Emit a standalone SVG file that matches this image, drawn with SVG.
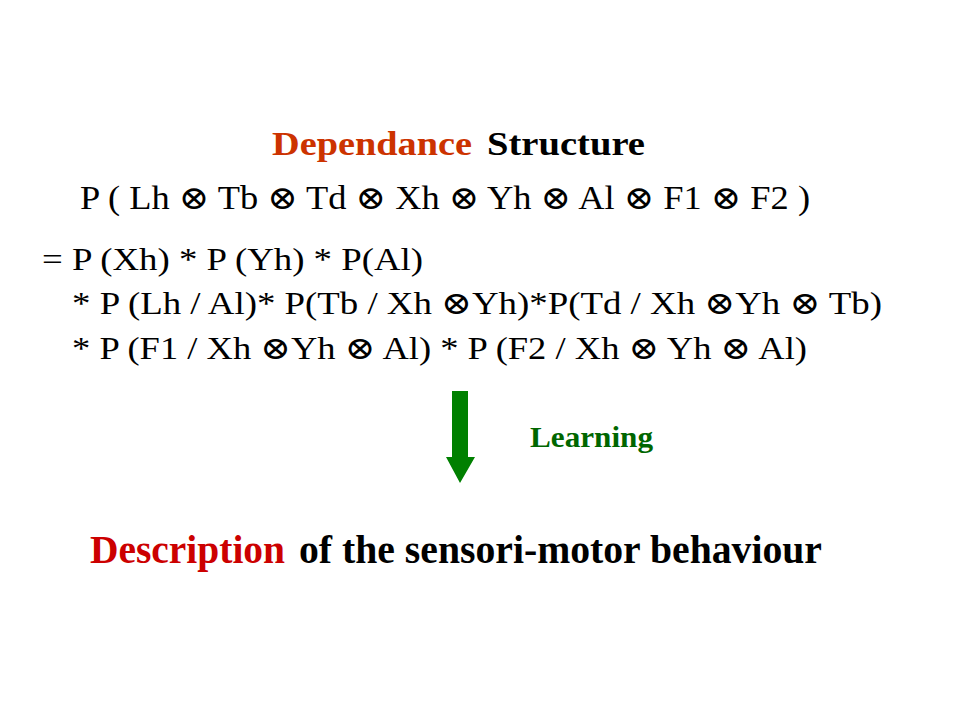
<svg xmlns="http://www.w3.org/2000/svg" width="960" height="720" viewBox="0 0 960 720">
<style>
text { font-family: "Liberation Serif", "Times New Roman", "DejaVu Serif", serif; }
.b { font-weight: bold; }
.eq { font-size: 32px; fill: #000; }
</style>
<rect width="960" height="720" fill="#fff"/>
<g id="title">
<text class="b" x="272" y="155" font-size="34" fill="#CC3300" textLength="200" lengthAdjust="spacingAndGlyphs">Dependance</text>
<text class="b" x="487" y="155" font-size="34" fill="#000" textLength="158" lengthAdjust="spacingAndGlyphs">Structure</text>
</g>
<g id="formula">
<text x="80" y="209" font-size="33" textLength="730" lengthAdjust="spacingAndGlyphs">P ( Lh ⊗ Tb ⊗ Td ⊗ Xh ⊗ Yh ⊗ Al ⊗ F1  ⊗ F2 )</text>
<text class="eq" x="42" y="270" textLength="381" lengthAdjust="spacingAndGlyphs">= P (Xh) * P (Yh) * P(Al)</text>
<text class="eq" x="72" y="314" textLength="810" lengthAdjust="spacingAndGlyphs">* P (Lh / Al)* P(Tb / Xh ⊗Yh)*P(Td / Xh ⊗Yh ⊗ Tb)</text>
<text class="eq" x="72" y="359" textLength="735" lengthAdjust="spacingAndGlyphs">* P (F1 / Xh ⊗Yh ⊗ Al) * P (F2 / Xh ⊗ Yh ⊗ Al)</text>
</g>
<g id="connectors">
<polygon points="452,391 468,391 468,457 475,457 460,483 446,457 452,457" fill="#008000"/>
</g>
<g id="learning">
<text class="b" x="530" y="447" font-size="29" fill="#006600" textLength="123" lengthAdjust="spacingAndGlyphs">Learning</text>
</g>
<g id="description">
<text class="b" x="90" y="563" font-size="40" fill="#CC0000" textLength="195" lengthAdjust="spacingAndGlyphs">Description</text>
<text class="b" x="299" y="563" font-size="40" fill="#000" textLength="523" lengthAdjust="spacingAndGlyphs">of the sensori-motor behaviour</text>
</g>
</svg>
